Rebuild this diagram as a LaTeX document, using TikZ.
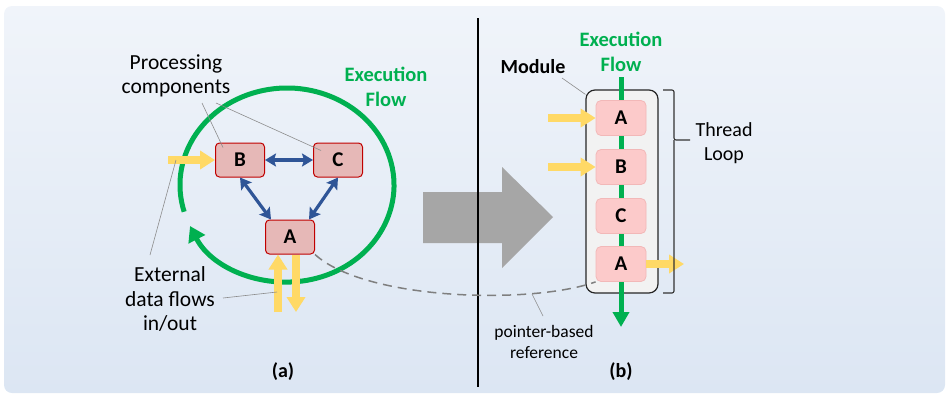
\documentclass[tikz,border=0pt]{standalone}
\usepackage{fontspec}
\setmainfont{Carlito}
\usetikzlibrary{arrows.meta}

\definecolor{bgtop}{HTML}{F0F4FA}
\definecolor{bgbot}{HTML}{DCE6F3}
\definecolor{flowgreen}{HTML}{00B050}
\definecolor{datayellow}{HTML}{FFD966}
\definecolor{linkblue}{HTML}{2F5597}
\definecolor{compfill}{HTML}{E6B8B7}
\definecolor{compborder}{HTML}{C00000}
\definecolor{slotfill}{HTML}{FCCACA}
\definecolor{slotborder}{HTML}{F2B8B8}
\definecolor{modfill}{HTML}{F2F2F2}
\definecolor{modborder}{HTML}{262626}
\definecolor{shiftgrey}{HTML}{A6A6A6}
\definecolor{leadgrey}{HTML}{8C8C8C}
\definecolor{ptrgrey}{HTML}{7F7F7F}

\tikzset{
	comp/.style={draw=compborder,fill=compfill,line width=1pt,rounded corners=4pt,
		minimum width=49pt,minimum height=34pt,font=\fontsize{21}{21}\selectfont\bfseries},
	slot/.style={draw=slotborder,fill=slotfill,line width=0.8pt,rounded corners=5pt,
		minimum width=50pt,minimum height=35pt,font=\fontsize{21}{21}\selectfont\bfseries},
	link/.style={draw=linkblue,line width=3.2pt,
		{Stealth[length=11pt,width=13pt,inset=2pt]}-{Stealth[length=11pt,width=13pt,inset=2pt]}},
	data/.style={draw=datayellow,line width=8pt,-{Triangle[width=18pt,length=15pt]}},
	flow/.style={draw=flowgreen,line width=5pt},
	leader/.style={draw=leadgrey,line width=0.6pt},
	txt/.style={align=center,inner sep=0pt,font=\fontsize{20}{24.5}\selectfont},
	bigtxt/.style={align=center,inner sep=0pt,font=\fontsize{21.5}{24.5}\selectfont},
	small/.style={align=center,inner sep=0pt,font=\fontsize{17.5}{21}\selectfont},
}

\begin{document}
\begin{tikzpicture}[x=1pt,y=-1pt]
	% canvas with the reference's size, y runs downwards
	\useasboundingbox (0,0) rectangle (949,394);
	\shade[top color=bgtop,bottom color=bgbot,rounded corners=8pt] (4,6) rectangle (945,393);

	% (a) the loop round the three components
	\coordinate (hub) at (287,185);
	\draw[flow,-{Triangle[width=18pt,length=15pt]}] (hub) ++(164:107 and 97)
		arc[start angle=164,end angle=515,x radius=107,y radius=97];

	% the big shift arrow and the divider
	\fill[shiftgrey] (423,192) -- (502,192) -- (502,167) -- (553,217)
		-- (502,268) -- (502,243) -- (423,243) -- cycle;
	\draw[line width=2.5pt] (478,18) -- (478,387);

	\node[comp] (lb) at (240,160) {B};
	\node[comp] (lc) at (338,160) {C};
	\node[comp] (la) at (290,237) {A};

	\draw[link] (lb) -- (lc);
	\draw[link] (lb.south) -- ([xshift=6pt]la.north west);
	\draw[link] (lc.south) -- ([xshift=-6pt]la.north east);

	% data going in and out
	\coordinate (bin) at (168,160);
	\coordinate (ain) at (278,312);
	\coordinate (aout) at (296,312);
	\draw[data] (bin) -- (lb.west);
	\draw[data] (ain) -- (ain |- la.south);
	\draw[data] (aout |- la.south) -- (aout);

	\node[bigtxt] (proc) at (176,76) {Processing\\components};
	\node[txt,text=flowgreen,font=\fontsize{20.5}{24.5}\selectfont\bfseries] (flowa) at (386,87) {Execution\\Flow};
	\node[bigtxt] (ext) at (170,299) {External\\data flows\\in/out};
	\node[txt,font=\fontsize{20}{20}\selectfont\bfseries] (capa) at (283,372) {(a)};

	\coordinate (procb) at (202,103);
	\coordinate (procc) at (216,103);
	\coordinate (extb) at (150,255);
	\coordinate (exta) at (223,298);
	\draw[leader] (procb) -- ([xshift=8pt,yshift=-5pt]lb.north west);
	\draw[leader] (procc) -- ([xshift=8pt,yshift=-8pt]lc.north west);
	\draw[leader] (extb) -- (176,160);
	\draw[leader] (exta) -- (277,292);

	% (b) the module as one thread loop
	\node[draw=modborder,fill=modfill,line width=1.2pt,rounded corners=9pt,
		minimum width=72pt,minimum height=203pt] (module) at (622,191.5) {};
	\coordinate (flowtop) at (621,77);
	\coordinate (flowend) at (621,327);
	\draw[flow,-{Triangle[width=16pt,length=15pt]}] (flowtop) -- (flowend);
	\foreach \n/\t/\y in {ra1/A/118, rb/B/167, rc/C/216, ra2/A/264}
		\node[slot] (\n) at (621,\y) {\t};

	\coordinate (ina) at (548,118);
	\coordinate (inb) at (548,167);
	\coordinate (outa) at (684,264);
	\draw[data] (ina) -- (ra1.west);
	\draw[data] (inb) -- (rb.west);
	\draw[data] (ra2.east) -- (outa);

	% bracket for the thread loop
	\draw[line width=1.1pt,draw=black!80,rounded corners=2pt] (663,90) -| (674,140) -- (690,140);
	\draw[line width=1.1pt,draw=black!80,rounded corners=2pt] (663,293) -| (674,140);
	\node[txt] (loop) at (724,143) {Thread\\Loop};

	\node[txt,font=\fontsize{20}{20}\selectfont\bfseries] (modl) at (533,67) {Module};
	\coordinate (modlead) at (562,78);
	\draw[leader] (modlead) -- ([yshift=-5pt]module.north west);
	\node[txt,text=flowgreen,font=\fontsize{20.5}{24.5}\selectfont\bfseries] (flowb) at (621,52) {Execution\\Flow};
	\node[txt,font=\fontsize{20}{20}\selectfont\bfseries] (capb) at (621,372) {(b)};

	% pointer from the first A to the last A
	\draw[ptrgrey,line width=1.5pt,dash pattern=on 9pt off 6pt]
		(la.south east) .. controls (365,300) and (530,305) .. (ra2.south west);
	\node[small] (ptr) at (544,342) {pointer-based\\reference};
	\coordinate (ptrlead) at (532,294);
	\draw[leader] (ptrlead) -- (543,316);
\end{tikzpicture}
\end{document}
